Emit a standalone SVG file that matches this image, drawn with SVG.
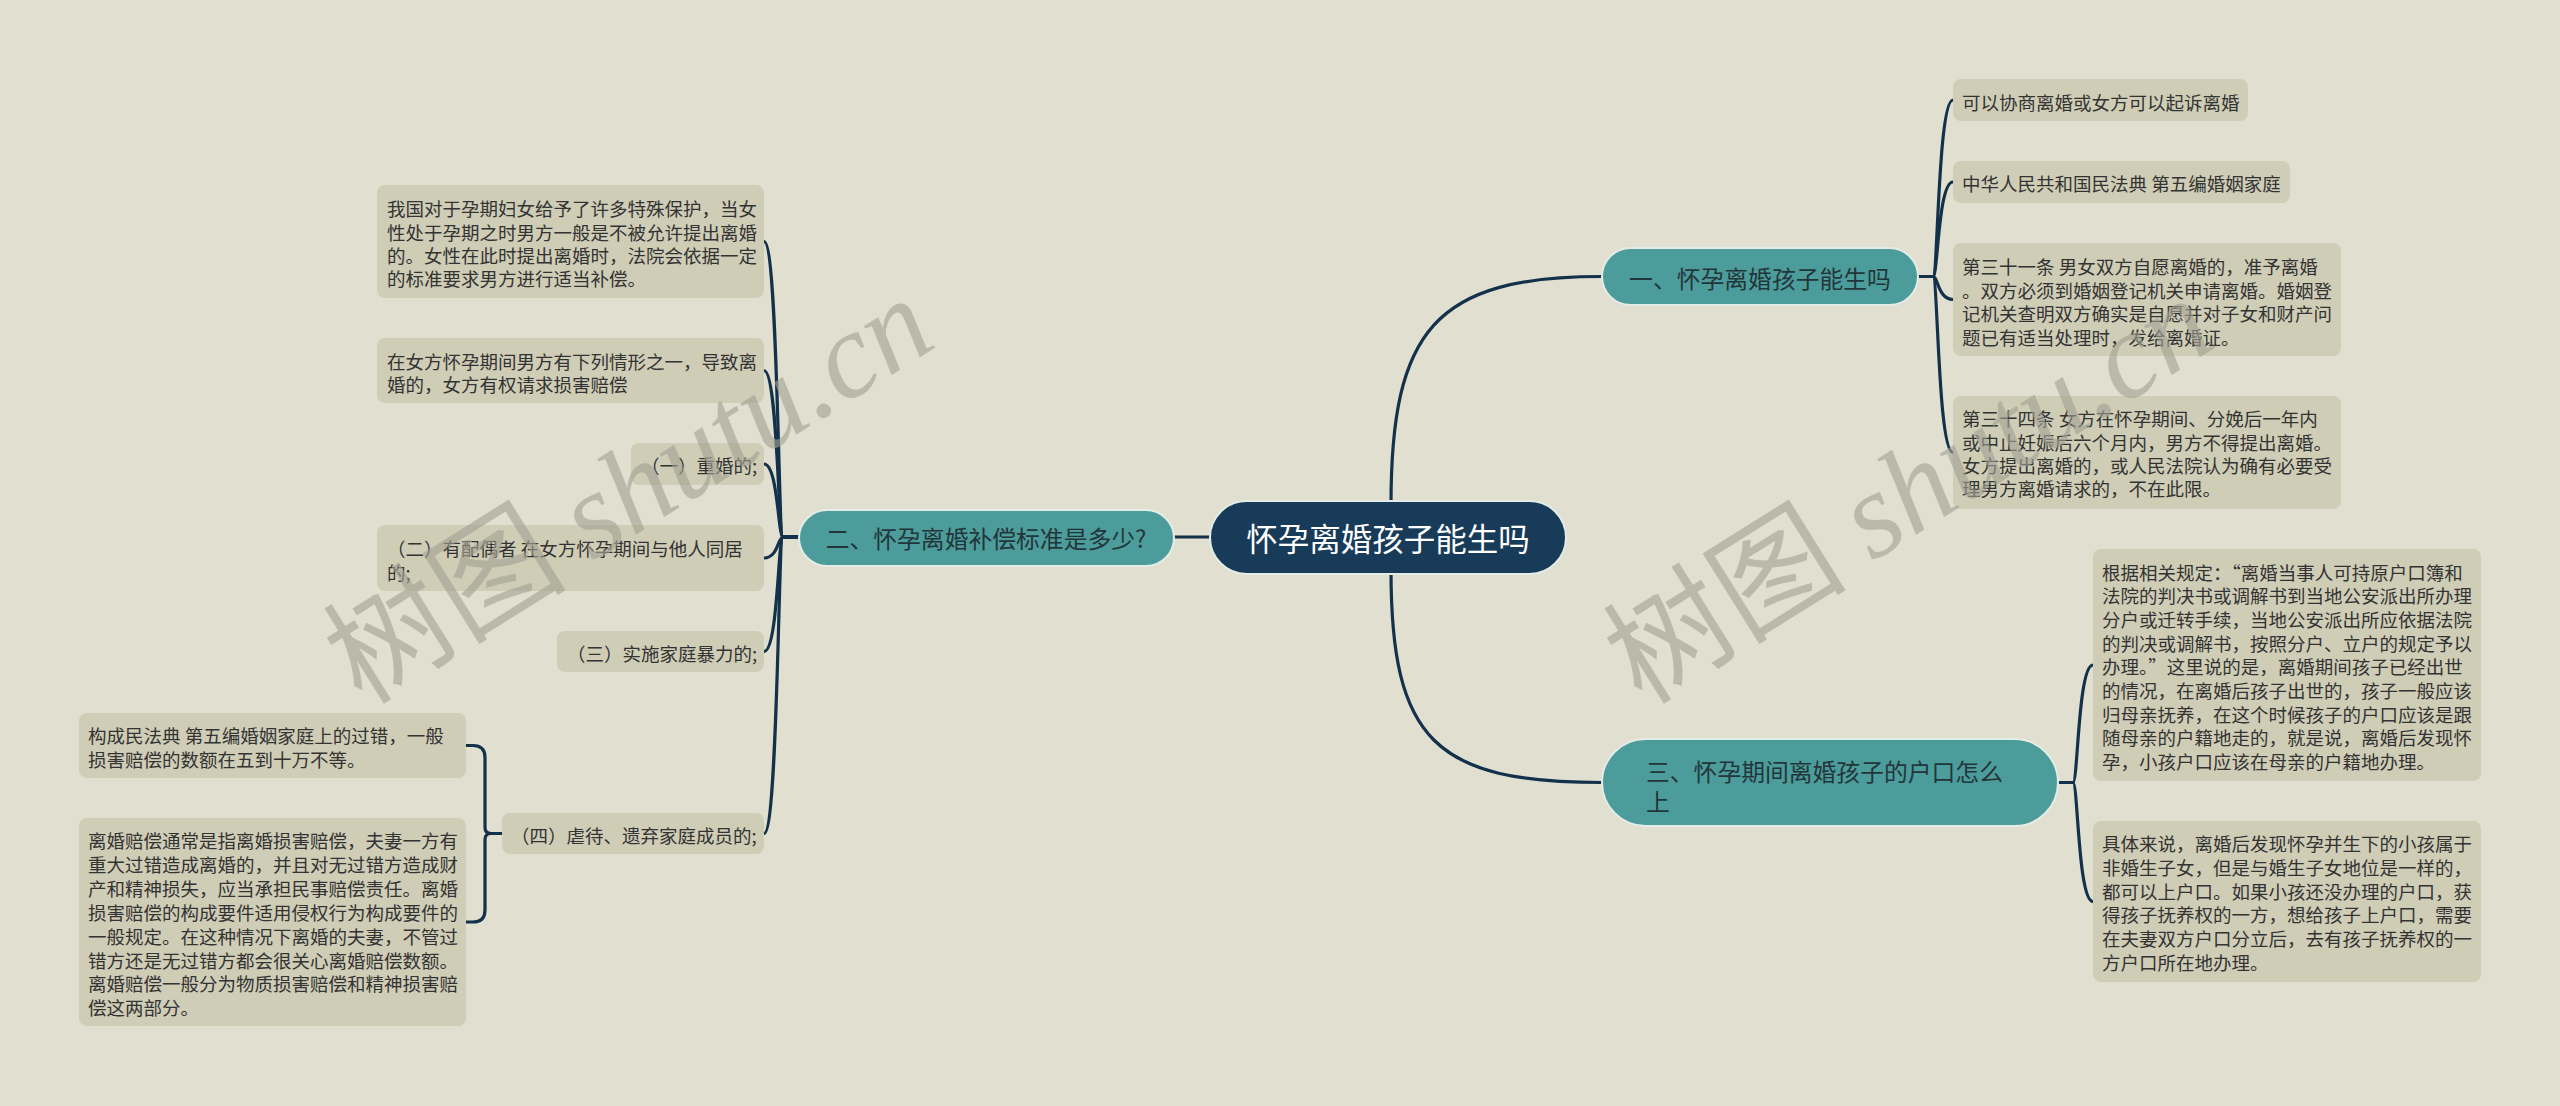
<svg xmlns="http://www.w3.org/2000/svg" width="2560" height="1106" viewBox="0 0 2560 1106">
<style>
.leaf rect{fill:#cfcdb6}
.leaf text{font-family:"Noto Sans CJK SC","Noto Sans",sans-serif;font-size:18.5px;fill:#333;dominant-baseline:central}
.branch rect{fill:#4d9c9c;stroke:#e4ece6;stroke-width:2}
.branch text{font-family:"Noto Sans CJK SC","Noto Sans",sans-serif;font-size:23.8px;fill:#22363a;dominant-baseline:central}
.root rect{fill:#173b58;stroke:#e4ece6;stroke-width:2}
.root text{font-family:"Noto Sans CJK SC","Noto Sans",sans-serif;font-size:31.5px;fill:#ffffff;dominant-baseline:central;text-anchor:middle}
.links path{fill:none;stroke:#13314a;stroke-width:3.2}
.wm{font-family:"Noto Sans CJK SC","Liberation Serif",serif;font-size:122px;fill:#a3a294;opacity:0.62}
.wm tspan{font-family:"Liberation Serif",serif;font-style:italic}
</style>
<rect x="0" y="0" width="2560" height="1106" fill="#e0dfd0"/>
<g class="links" id="connectors">
<path d="M 1210 537 H 1174"/>
<path d="M 1391 505 C 1391 330 1435 276.5 1602 276.5"/>
<path d="M 1391 570 C 1391 740 1435 782.5 1602 782.5"/>
<path d="M 799 537 H 783 C 778 537 778 241.5 764 241.5"/>
<path d="M 799 537 H 783 C 778 537 778 370.5 764 370.5"/>
<path d="M 799 537 H 783 C 778 537 778 464 764 464"/>
<path d="M 799 537 H 783 C 778 537 778 558 764 558"/>
<path d="M 799 537 H 783 C 778 537 778 651.5 764 651.5"/>
<path d="M 799 537 H 783 C 778 537 778 833.5 764 833.5"/>
<path d="M 502 833.5 H 491 Q 485 833.5 485 827.5 V 757.5 Q 485 745.5 473 745.5 H 466"/>
<path d="M 502 833.5 H 491 Q 485 833.5 485 839.5 V 910 Q 485 922 473 922 H 466"/>
<path d="M 1918 276.5 H 1933 C 1938 276.5 1938 100 1953 100"/>
<path d="M 1918 276.5 H 1933 C 1938 276.5 1938 182 1953 182"/>
<path d="M 1918 276.5 H 1933 C 1938 276.5 1938 299.5 1953 299.5"/>
<path d="M 1918 276.5 H 1933 C 1938 276.5 1938 452.5 1953 452.5"/>
<path d="M 2058 782.5 H 2073 C 2078 782.5 2078 665 2093 665"/>
<path d="M 2058 782.5 H 2073 C 2078 782.5 2078 901.5 2093 901.5"/>
</g>
<g class="root" id="root">
<rect x="1210" y="501" width="356" height="73" rx="36.5"/>
<text x="1388" y="537">怀孕离婚孩子能生吗</text>
</g>
<g class="branch" id="b1">
<rect x="1602" y="248" width="316" height="57" rx="28.5"/>
<text x="1760" y="277" text-anchor="middle">一、怀孕离婚孩子能生吗</text>
</g>
<g class="branch" id="b2">
<rect x="799" y="510" width="375" height="56" rx="28"/>
<text x="986" y="537" text-anchor="middle">二、怀孕离婚补偿标准是多少?</text>
</g>
<g class="branch" id="b3">
<rect x="1602" y="739" width="456" height="87" rx="43.5"/>
<text x="1646" y="770">三、怀孕期间离婚孩子的户口怎么</text>
<text x="1646" y="800">上</text>
</g>
<g class="leaf" id="l2a">
<rect x="377" y="185" width="387" height="113" rx="8"/>
<text x="387" y="208.3">我国对于孕期妇女给予了许多特殊保护，当女</text>
<text x="387" y="231.7">性处于孕期之时男方一般是不被允许提出离婚</text>
<text x="387" y="255">的。女性在此时提出离婚时，法院会依据一定</text>
<text x="387" y="278.3">的标准要求男方进行适当补偿。</text>
</g>
<g class="leaf" id="l2b">
<rect x="377" y="338" width="387" height="65" rx="8"/>
<text x="387" y="361">在女方怀孕期间男方有下列情形之一，导致离</text>
<text x="387" y="384.3">婚的，女方有权请求损害赔偿</text>
</g>
<g class="leaf" id="l2c">
<rect x="631" y="443" width="133" height="42" rx="8"/>
<text x="641" y="465">（一）重婚的;</text>
</g>
<g class="leaf" id="l2d">
<rect x="377" y="525" width="387" height="66" rx="8"/>
<text x="387" y="548.3">（二）有配偶者 在女方怀孕期间与他人同居</text>
<text x="387" y="571.7">的;</text>
</g>
<g class="leaf" id="l2e">
<rect x="557" y="631" width="207" height="41" rx="8"/>
<text x="567" y="652.5">（三）实施家庭暴力的;</text>
</g>
<g class="leaf" id="l2f">
<rect x="502" y="813" width="262" height="41" rx="8"/>
<text x="511" y="835">（四）虐待、遗弃家庭成员的;</text>
</g>
<g class="leaf" id="l2f1">
<rect x="79" y="713" width="387" height="65" rx="8"/>
<text x="88" y="735">构成民法典 第五编婚姻家庭上的过错，一般</text>
<text x="88" y="759.3">损害赔偿的数额在五到十万不等。</text>
</g>
<g class="leaf" id="l2f2">
<rect x="79" y="818" width="387" height="208" rx="8"/>
<text x="88" y="840">离婚赔偿通常是指离婚损害赔偿，夫妻一方有</text>
<text x="88" y="863.9">重大过错造成离婚的，并且对无过错方造成财</text>
<text x="88" y="887.8">产和精神损失，应当承担民事赔偿责任。离婚</text>
<text x="88" y="911.7">损害赔偿的构成要件适用侵权行为构成要件的</text>
<text x="88" y="935.6">一般规定。在这种情况下离婚的夫妻，不管过</text>
<text x="88" y="959.5">错方还是无过错方都会很关心离婚赔偿数额。</text>
<text x="88" y="983.4">离婚赔偿一般分为物质损害赔偿和精神损害赔</text>
<text x="88" y="1007.3">偿这两部分。</text>
</g>
<g class="leaf" id="l1a">
<rect x="1953" y="79" width="295" height="42" rx="8"/>
<text x="1962" y="101.5">可以协商离婚或女方可以起诉离婚</text>
</g>
<g class="leaf" id="l1b">
<rect x="1953" y="161" width="337" height="42" rx="8"/>
<text x="1962" y="183.3">中华人民共和国民法典 第五编婚姻家庭</text>
</g>
<g class="leaf" id="l1c">
<rect x="1953" y="243" width="388" height="113" rx="8"/>
<text x="1962" y="266">第三十一条 男女双方自愿离婚的，准予离婚</text>
<text x="1962" y="289.5">。双方必须到婚姻登记机关申请离婚。婚姻登</text>
<text x="1962" y="313">记机关查明双方确实是自愿并对子女和财产问</text>
<text x="1962" y="336.5">题已有适当处理时，发给离婚证。</text>
</g>
<g class="leaf" id="l1d">
<rect x="1953" y="396" width="388" height="113" rx="8"/>
<text x="1962" y="418.3">第三十四条 女方在怀孕期间、分娩后一年内</text>
<text x="1962" y="441.7">或中止妊娠后六个月内，男方不得提出离婚。</text>
<text x="1962" y="465">女方提出离婚的，或人民法院认为确有必要受</text>
<text x="1962" y="488.3">理男方离婚请求的，不在此限。</text>
</g>
<g class="leaf" id="l3a">
<rect x="2093" y="549" width="388" height="232" rx="8"/>
<text x="2102" y="571.7">根据相关规定：“离婚当事人可持原户口簿和</text>
<text x="2102" y="595.4">法院的判决书或调解书到当地公安派出所办理</text>
<text x="2102" y="619">分户或迁转手续，当地公安派出所应依据法院</text>
<text x="2102" y="642.7">的判决或调解书，按照分户、立户的规定予以</text>
<text x="2102" y="666.3">办理。”这里说的是，离婚期间孩子已经出世</text>
<text x="2102" y="690">的情况，在离婚后孩子出世的，孩子一般应该</text>
<text x="2102" y="713.7">归母亲抚养，在这个时候孩子的户口应该是跟</text>
<text x="2102" y="737.3">随母亲的户籍地走的，就是说，离婚后发现怀</text>
<text x="2102" y="761">孕，小孩户口应该在母亲的户籍地办理。</text>
</g>
<g class="leaf" id="l3b">
<rect x="2093" y="821" width="388" height="161" rx="8"/>
<text x="2102" y="843.3">具体来说，离婚后发现怀孕并生下的小孩属于</text>
<text x="2102" y="867">非婚生子女，但是与婚生子女地位是一样的，</text>
<text x="2102" y="890.7">都可以上户口。如果小孩还没办理的户口，获</text>
<text x="2102" y="914.4">得孩子抚养权的一方，想给孩子上户口，需要</text>
<text x="2102" y="938.1">在夫妻双方户口分立后，去有孩子抚养权的一</text>
<text x="2102" y="961.8">方户口所在地办理。</text>
</g>
<text class="wm" x="362" y="706" transform="rotate(-32 362 706)">树图 <tspan>shutu.cn</tspan></text>
<text class="wm" x="1642" y="706" transform="rotate(-32 1642 706)">树图 <tspan>shutu.cn</tspan></text>
</svg>
